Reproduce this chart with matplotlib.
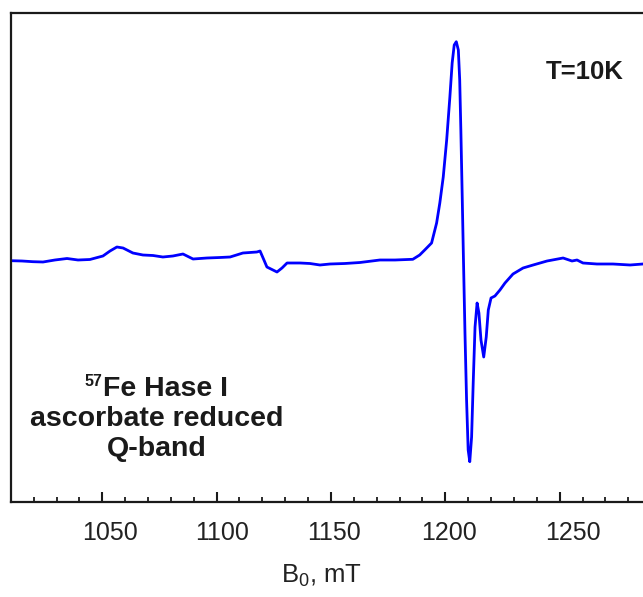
import matplotlib
matplotlib.use("Agg")
import matplotlib.pyplot as plt
import matplotlib.transforms as mtransforms
from matplotlib.ticker import MultipleLocator

plt.rcParams['font.family'] = ['Liberation Sans', 'DejaVu Sans']
plt.rcParams['mathtext.fontset'] = 'custom'
plt.rcParams['mathtext.rm'] = 'Liberation Sans'
plt.rcParams['mathtext.it'] = 'Liberation Sans:italic'
plt.rcParams['mathtext.bf'] = 'Liberation Sans:bold'

# Magnetic field (mT) and EPR derivative signal (arb. units)
field_mT = [1010.1, 1014.9, 1019.7, 1024.1, 1029.3, 1034.6, 1039.4, 1044.6, 1050.3, 1053.4,
            1056.4, 1059.1, 1063.4, 1067.8, 1072.2, 1076.5, 1080.9, 1085.3, 1089.7, 1095.8,
            1101.5, 1105.9, 1111.5, 1117.6, 1119.0, 1120.7, 1122.0, 1126.4, 1128.6, 1130.8,
            1136.5, 1140.8, 1145.2, 1149.6, 1156.1, 1162.7, 1171.4, 1178.0, 1185.8, 1188.8,
            1191.0, 1194.0, 1196.2, 1197.6, 1199.1, 1200.6, 1202.0, 1203.0, 1203.9, 1204.8,
            1205.7, 1206.3, 1206.8, 1207.4, 1207.9, 1208.6, 1209.3, 1210.0, 1210.7, 1211.5,
            1212.2, 1213.0, 1213.9, 1214.7, 1215.6, 1216.8, 1217.9, 1218.8, 1220.0, 1221.7,
            1223.9, 1226.1, 1229.6, 1234.0, 1238.4, 1244.5, 1251.5, 1255.4, 1257.6, 1260.2,
            1266.3, 1273.3, 1280.8, 1286.4]
signal = [0.3, 0.0, -0.7, -1.0, 1.0, 2.5, 1.0, 1.5, 5.0, 10.0,
          14.0, 13.0, 8.0, 6.0, 5.5, 4.0, 5.0, 7.0, 2.0, 3.0,
          3.5, 4.0, 8.0, 9.0, 10.0, 1.0, -6.0, -11.0, -7.0, -2.0,
          -2.0, -2.5, -4.0, -3.0, -2.5, -1.5, 1.0, 1.0, 1.7, 6.0,
          11.0, 18.0, 38.0, 58.0, 84.0, 121.0, 164.0, 198.0, 216.0, 219.3,
          211.0, 181.0, 131.0, 64.0, 6.0, -72.0, -139.0, -189.0, -200.7, -176.0,
          -122.0, -66.0, -42.0, -52.0, -79.0, -96.0, -76.0, -49.0, -37.0, -35.0,
          -29.0, -22.0, -13.0, -7.0, -4.0, 0.0, 3.0, 0.0, 1.0, -2.0,
          -3.0, -3.0, -4.0, -3.0]

xticks = [1050, 1100, 1150, 1200, 1250]
label_shift_px = [8, 5.5, 3.5, 3.5, 13.5]

W, H = 643, 597
fig = plt.figure(figsize=(W / 100, H / 100), dpi=100)
ax = fig.add_axes([11 / W, (H - 502) / H, (W - 11) / W, (502 - 13) / H])

ax.plot(field_mT, signal, color='#0000ff', lw=2.0, solid_joinstyle='round')

ax.set_xlim(1010.1, 1010.1 + 632 / 2.287)
ax.set_ylim(261 - 502, 261 - 13)

for side in ['left', 'top', 'bottom']:
    ax.spines[side].set_linewidth(1.6)
    ax.spines[side].set_color('#1a1a1a')
ax.spines['right'].set_visible(False)

ax.set_xticks(xticks)
ax.set_xticklabels([str(t) for t in xticks])
ax.xaxis.set_minor_locator(MultipleLocator(10))
ax.tick_params(axis='x', which='major', direction='in', length=7, width=1.5,
               color='#1a1a1a', labelsize=18, labelcolor='#222222', pad=14)
ax.tick_params(axis='x', which='minor', direction='in', length=3.5, width=1.3,
               color='#1a1a1a')
ax.set_yticks([])
for lab, dx in zip(ax.get_xticklabels(), label_shift_px):
    lab.set_transform(lab.get_transform() +
                      mtransforms.ScaledTranslation(dx / 100, 0, fig.dpi_scale_trans))

fig.text(322 / W, 1 - 576 / H, r'B$_0$, mT', ha='center', va='center',
         fontsize=18.5, color='#222222')

fig.text(585 / W, 1 - 72 / H, 'T=10K', ha='center', va='center',
         fontsize=18.5, fontweight='bold', color='#1a1a1a')

fig.text(103 / W, 1 - 389 / H, 'Fe Hase I', ha='left', va='center',
         fontsize=20.5, fontweight='bold', color='#1a1a1a')
fig.text(102 / W, 1 - 382 / H, '57', ha='right', va='center',
         fontsize=11.5, fontweight='bold', color='#1a1a1a')
fig.text(157 / W, 1 - 419 / H, 'ascorbate reduced', ha='center', va='center',
         fontsize=20.5, fontweight='bold', color='#1a1a1a')
fig.text(157 / W, 1 - 449 / H, 'Q-band', ha='center', va='center',
         fontsize=20.5, fontweight='bold', color='#1a1a1a')

fig.savefig('out.png', dpi=100)
